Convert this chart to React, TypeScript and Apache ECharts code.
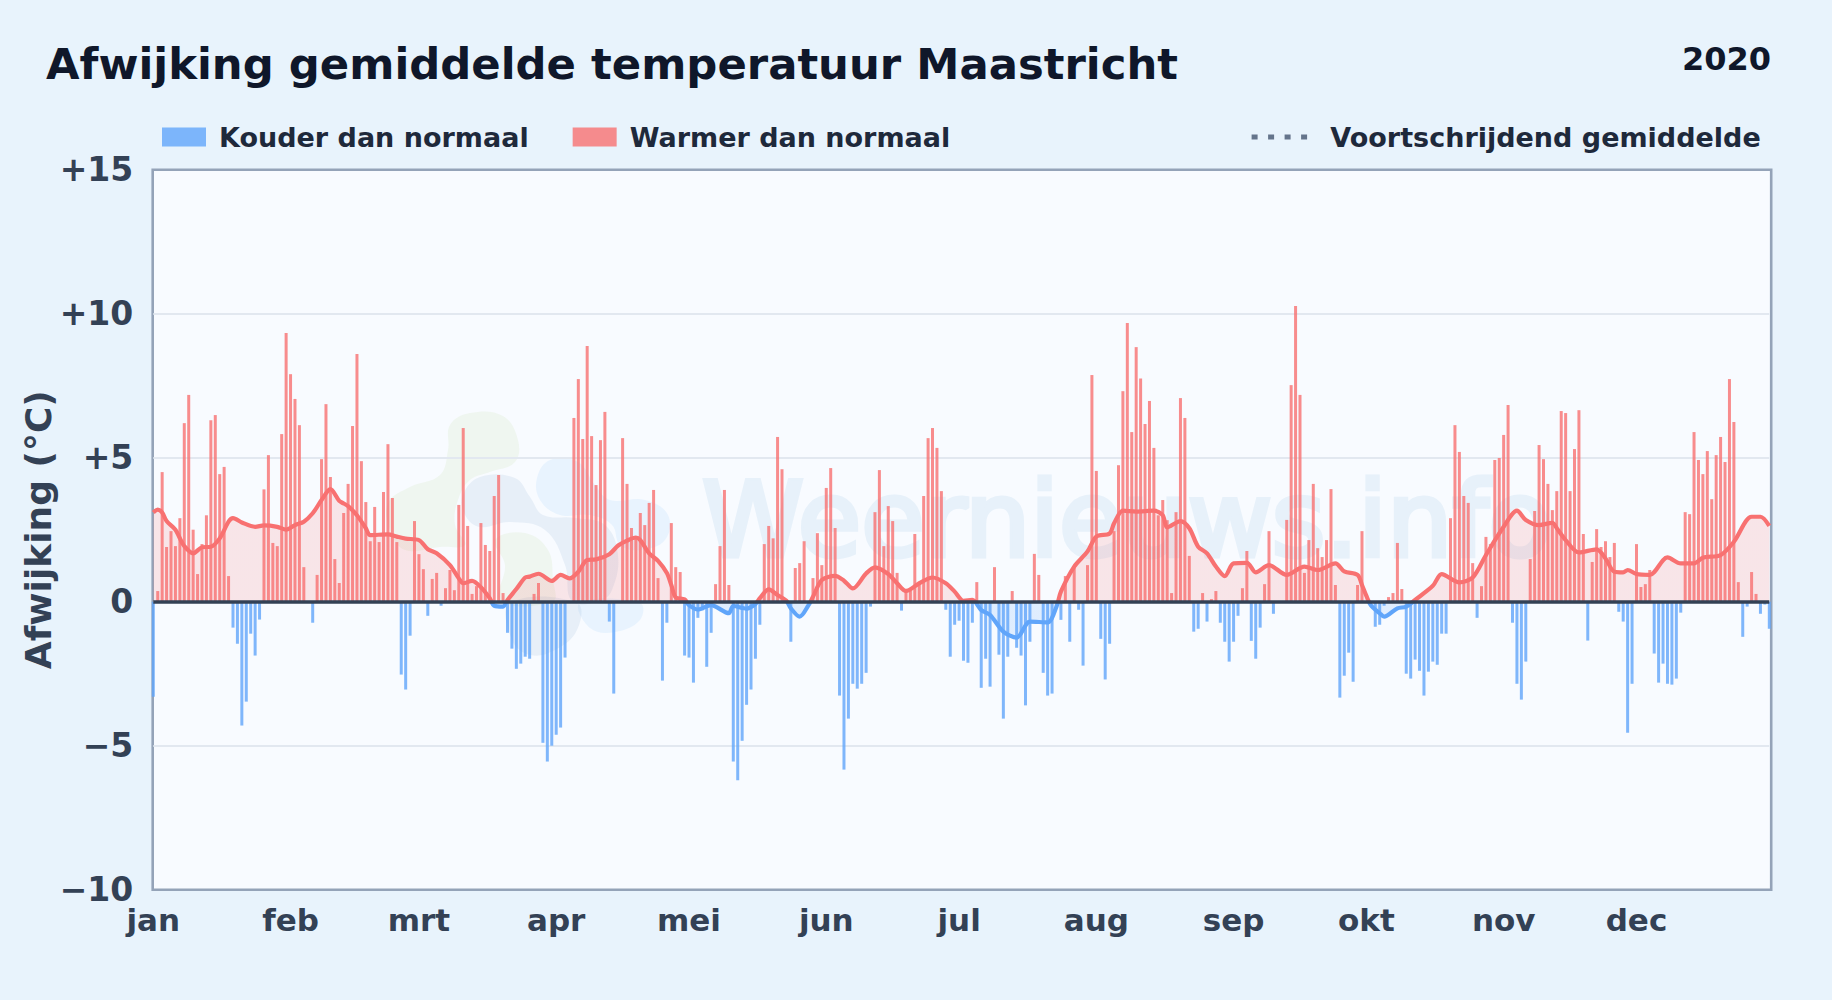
import React, { useEffect, useRef } from "react";
import * as echarts from "echarts";

const FONT = "DejaVu Sans";
const TITLE = "Afwijking gemiddelde temperatuur Maastricht";
const YEAR = "2020";
const WATERMARK = "Weernieuws.info";
const COLD_NAME = "Kouder dan normaal";
const WARM_NAME = "Warmer dan normaal";
const AVG_NAME = "Voortschrijdend gemiddelde";

const monthLabels = ["jan", "feb", "mrt", "apr", "mei", "jun", "jul", "aug", "sep", "okt", "nov", "dec"];
const monthStarts = [0, 31, 60, 91, 121, 152, 182, 213, 244, 274, 305, 335];

const deviation = [
  -3.3, 0.37, 4.5, 1.9, 2.45, 1.93, 2.9, 6.2, 7.18, 2.5,
  0.96, 2.0, 3.0, 6.3, 6.48, 4.43, 4.68, 0.89, -0.9, -1.46,
  -4.3, -3.47, -1.11, -1.87, -0.62, 3.9, 5.09, 2.04, 1.93, 5.82,
  9.33, 7.9, 7.04, 6.13, 1.2, 0, -0.73, 0.93, 4.95, 6.86,
  4.33, 1.48, 0.65, 3.08, 4.09, 6.1, 8.6, 4.88, 3.46, 2.1,
  3.29, 2.07, 3.81, 5.47, 3.6, 2.07, -2.53, -3.05, -1.18, 2.8,
  1.65, 1.13, -0.49, 0.79, 1.0, -0.14, 0.47, 1.1, 0.4, 3.36,
  6.03, 2.63, 0.27, 0.54, 2.73, 1.97, 1.76, 3.67, 4.4, 0.3,
  -1.08, -1.63, -2.33, -2.15, -1.91, -1.98, 0.27, 0.65, -4.9, -5.55,
  -5.0, -4.62, -4.37, -1.94, 0, 6.38, 7.73, 5.65, 8.88, 5.75,
  4.05, 5.61, 6.59, -0.69, -3.19, 0, 5.68, 4.09, 2.56, 2.26,
  3.08, 2.66, 3.43, 3.88, 0.82, -2.74, -0.73, 2.73, 1.2, 1.03,
  -1.87, -1.94, -2.81, -0.56, -0.3, -2.26, -1.08, 0.61, 1.93, 3.88,
  0.58, -5.55, -6.2, -4.83, -3.58, -3.05, -1.98, -0.8, 2.0, 2.63,
  2.2, 5.72, 4.6, 0, -1.39, 1.17, 1.34, 2.1, 0, 0.82,
  2.38, 1.27, 3.95, 4.64, 2.56, -3.26, -5.83, -4.06, -2.85, -3.02,
  -2.85, -2.47, -0.17, 3.11, 4.57, 1.93, 3.32, 2.8, 1.0, -0.31,
  0.45, 0.4, 2.35, 0.7, 3.67, 5.68, 6.03, 5.34, 3.84, -0.28,
  -1.91, -0.8, -0.66, -2.05, -2.12, -0.73, 0.68, -2.99, -1.98, -2.95,
  1.2, -1.84, -4.06, -1.91, 0.37, -1.6, -1.87, -3.6, -1.39, 1.66,
  0.93, -2.47, -3.26, -3.19, 0, -0.63, 0.89, -1.39, 1.2, -0.28,
  -2.22, 1.27, 7.87, 4.54, -1.29, -2.7, -1.46, 2.45, 4.74, 7.31,
  9.68, 5.89, 8.84, 7.75, 6.17, 6.97, 5.34, 3.0, 3.53, 2.83,
  0.3, 3.11, 7.07, 6.38, 1.59, -1.04, -0.94, 0.3, -0.69, 0.09,
  0.37, -0.73, -1.39, -2.08, -1.39, -0.49, 0.47, 1.76, -1.36, -1.98,
  -0.9, 0.61, 2.45, -0.42, 0, 0, 2.84, 7.52, 10.27, 7.18,
  1.0, 2.14, 4.09, 1.86, 1.55, 2.14, 3.91, 0.58, -3.33, -2.57,
  -1.77, -2.78, 0.58, 2.45, 0, 0, -0.87, -0.8, -0.14, 0.16,
  0.3, 2.04, 0.44, -2.5, -2.67, -2.01, -2.4, -3.26, -2.43, -2.08,
  -2.19, -1.11, -1.11, 2.9, 6.13, 5.2, 3.67, 3.43, 1.34, -0.56,
  0.54, 2.25, 2.0, 4.92, 4.99, 5.79, 6.83, -0.73, -2.85, -3.4,
  -2.08, 1.48, 3.15, 5.44, 4.95, 4.09, 3.18, 3.84, 6.62, 6.55,
  3.84, 5.3, 6.65, 2.35, -1.35, 1.38, 2.52, 1.9, 2.1, 1.55,
  2.04, -0.35, -0.69, -4.55, -2.85, 2.0, 0.51, 0.61, 1.1, -1.8,
  -2.81, -2.15, -2.85, -2.88, -2.67, -0.38, 3.11, 3.04, 5.89, 4.92,
  4.43, 5.23, 3.56, 5.09, 5.72, 4.85, 7.73, 6.24, 0.68, -1.22,
  -0.17, 1.03, 0.27, -0.42, -0.1, -0.94,
];

const avgDays = [
  0, 1, 2, 3, 5, 6, 7, 9, 11, 13, 15, 17, 18, 20, 23, 25, 28, 30, 32, 34, 36, 38, 40, 42, 43, 44, 46, 48, 49, 53, 55, 57,
  60, 62, 64, 67, 69, 70, 72, 74, 76, 77, 79, 80, 82, 84, 85, 87, 90, 92, 94, 96, 98, 100, 103, 105, 107, 109, 110, 112,
  114, 116, 117, 118, 120, 121, 123, 126, 127, 130, 131, 134, 136, 137, 139, 141, 143, 144, 146, 148, 149, 151, 154, 156,
  158, 161, 163, 166, 168, 170, 173, 176, 179, 181, 183, 185, 187, 189, 192, 195, 198, 202, 204, 205, 208, 211, 213, 216,
  217, 219, 222, 226, 228, 229, 232, 234, 236, 238, 240, 242, 244, 247, 249, 252, 256, 260, 263, 267, 269, 272, 273, 274,
  275, 277, 278, 281, 283, 285, 289, 291, 295, 298, 301, 305, 308, 310, 313, 316, 317, 319, 322, 326, 328, 330, 332, 333,
  335, 338, 342, 345, 348, 350, 354, 357, 361, 363, 365,
];

const avgValues = [
  3.1, 3.2, 3.1, 2.8, 2.5, 2.2, 1.93, 1.68, 1.89, 1.91, 2.2, 2.78, 2.9, 2.75, 2.6, 2.65, 2.6, 2.5, 2.66, 2.78, 3.07, 3.53, 3.91, 3.5, 3.41, 3.32, 3.0, 2.55, 2.31, 2.34, 2.26, 2.19,
  2.14, 1.82, 1.68, 1.27, 0.81, 0.64, 0.72, 0.5, 0.12, -0.14, -0.17, 0.06, 0.44, 0.84, 0.87, 0.97, 0.72, 0.93, 0.81, 1.04, 1.45, 1.47, 1.65, 1.95, 2.12, 2.23, 2.14, 1.68,
  1.42, 1.0, 0.58, 0.15, 0.08, -0.12, -0.27, -0.12, -0.17, -0.4, -0.15, -0.24, -0.08, 0.12, 0.43, 0.23, 0.03, -0.23, -0.52, -0.12, 0.17, 0.75, 0.9, 0.73,
  0.46, 0.98, 1.19, 0.96, 0.64, 0.37, 0.64, 0.84, 0.64, 0.35, 0.03, 0.06, -0.29, -0.46, -1.04, -1.25, -0.69, -0.72, -0.17, 0.35, 1.22, 1.74, 2.26, 2.37,
  2.72, 3.16, 3.13, 3.16, 3.0, 2.58, 2.8, 2.55, 1.91, 1.68, 1.22, 0.89, 1.33, 1.35, 1.02, 1.27, 0.93, 1.22, 1.1, 1.33, 1.05, 0.93, 0.58, 0.2,
  -0.12, -0.4, -0.52, -0.23, -0.17, 0.06, 0.55, 0.96, 0.67, 0.84, 1.62, 2.6, 3.16, 2.84, 2.66, 2.74, 2.55, 2.14, 1.71, 1.82, 1.5, 1.04, 1.02, 1.1,
  0.96, 0.93, 1.54, 1.33, 1.33, 1.53, 1.62, 2.08, 2.95, 2.95, 2.63,
];

const coldValues = deviation.map((v) => (v < 0 ? v : null));
const warmValues = deviation.map((v) => (v > 0 ? v : null));
const dayIndex = deviation.map((_, i) => String(i));
const avgPoints = avgDays.map((d, i) => [d, avgValues[i]]);

const yTicks: Record<string, string> = { "15": "+15", "10": "+10", "5": "+5", "0": "0", "-5": "\u22125", "-10": "\u221210" };

const GREEN = "rgba(176,214,120,0.11)";
const SLATE = "rgba(70,120,180,0.09)";
const SKY = "rgba(96,180,250,0.10)";

const logoBlobs: { fill: string; pts: number[][] }[] = [
  { fill: GREEN, pts: [[450, 425], [470, 413], [503, 416], [518, 440], [515, 462], [490, 472], [470, 480], [458, 500], [455, 525], [465, 545], [440, 547], [405, 550], [390, 530], [388, 503], [410, 487], [440, 475], [448, 450]] },
  { fill: GREEN, pts: [[495, 540], [525, 533], [548, 550], [553, 580], [553, 601], [500, 601], [505, 565]] },
  { fill: SLATE, pts: [[463, 495], [480, 477], [515, 478], [530, 497], [543, 515], [575, 518], [605, 525], [618, 555], [612, 590], [600, 601], [572, 601], [565, 565], [545, 530], [510, 522], [480, 527], [465, 515]] },
  { fill: SLATE, pts: [[510, 603], [577, 603], [577, 630], [555, 650], [530, 655], [512, 640]] },
  { fill: SKY, pts: [[537, 478], [550, 460], [578, 462], [595, 485], [610, 500], [645, 500], [668, 515], [665, 540], [640, 550], [620, 545], [612, 525], [590, 515], [560, 515], [540, 500]] },
  { fill: SKY, pts: [[580, 603], [640, 603], [640, 620], [615, 632], [590, 628]] },
];

const dotsIcon = "path://M0 0h6v5H0zM16.5 0h6v5h-6zM33 0h6v5h-6zM49.5 0h6v5h-6z";

const RED = "#f87171";
const BLUE = "#60a5fa";
const GRID_TOP = 169.7;
const GRID_HEIGHT = 720;
const ZERO_STOP = 15 / 25;
const signGradient = {
  type: "linear", x: 0, y: GRID_TOP, x2: 0, y2: GRID_TOP + GRID_HEIGHT, global: true,
  colorStops: [
    { offset: 0, color: RED },
    { offset: ZERO_STOP, color: RED },
    { offset: ZERO_STOP, color: BLUE },
    { offset: 1, color: BLUE },
  ],
};

export default function App() {
  const ref = useRef<HTMLDivElement>(null);
  useEffect(() => {
    document.body.style.margin = "0";
    document.body.style.background = "#e8f3fc";
    const chart = echarts.init(ref.current!, undefined, { renderer: "svg" });
    chart.setOption({
      animation: false,
      backgroundColor: "#e8f3fc",
      textStyle: { fontFamily: FONT },
      title: [
        { text: TITLE, left: 46, top: 42, padding: 0, textStyle: { fontFamily: FONT, fontWeight: "bold", fontSize: 43.35, color: "#0f172a" } },
        { text: YEAR, right: 61, top: 43, padding: 0, textStyle: { fontFamily: FONT, fontWeight: "bold", fontSize: 32, color: "#0f172a" } },
      ],
      legend: [
        {
          left: 162, top: 123.5, padding: 0, itemWidth: 44, itemHeight: 19, itemGap: 44, selectedMode: false,
          data: [
            { name: COLD_NAME, icon: "rect" },
            { name: WARM_NAME, icon: "rect" },
          ],
          textStyle: { fontFamily: FONT, fontWeight: "bold", fontSize: 27, color: "#1e293b", padding: [0, 0, 0, 8] },
        },
        {
          left: 1251.6, top: 123.5, padding: 0, itemWidth: 56, itemHeight: 5, selectedMode: false,
          data: [{ name: AVG_NAME, icon: dotsIcon, itemStyle: { color: "#64748b", opacity: 1 } }],
          textStyle: { fontFamily: FONT, fontWeight: "bold", fontSize: 27, color: "#1e293b", padding: [0, 0, 0, 18] },
        },
      ],
      grid: { left: 153.3, top: GRID_TOP, width: 1616, height: GRID_HEIGHT, show: false },
      xAxis: {
        type: "category", data: dayIndex, boundaryGap: false,
        axisLine: { show: false }, axisTick: { show: false }, splitLine: { show: false },
        axisLabel: {
          interval: (i: number) => monthStarts.includes(i),
          formatter: (v: string) => {
            const k = monthStarts.indexOf(Number(v));
            return k >= 0 ? monthLabels[k] : "";
          },
          margin: 15, fontFamily: FONT, fontWeight: "bold", fontSize: 31, color: "#334155",
        },
      },
      yAxis: {
        type: "value", min: -10, max: 15, interval: 5,
        name: "Afwijking (\u00b0C)", nameLocation: "middle", nameGap: 97, nameRotate: 90, nameMoveOverlap: false,
        nameTextStyle: { fontFamily: FONT, fontWeight: "bold", fontSize: 36, color: "#334155" },
        axisLine: { show: false }, axisTick: { show: false },
        axisLabel: {
          margin: 20, fontFamily: FONT, fontWeight: "bold", fontSize: 33, color: "#334155",
          formatter: (v: number) => yTicks[String(v)],
        },
        splitLine: { showMinLine: false, showMaxLine: false, lineStyle: { color: "#e2e8f0", width: 2 } },
      },
      graphic: [
        {
          type: "rect", silent: true, z: -1,
          shape: { x: 152.7, y: GRID_TOP, width: 1618.5, height: GRID_HEIGHT },
          style: { fill: "#f8fbff", stroke: "#94a3b8", lineWidth: 2.6 },
        },
        ...logoBlobs.map((b) => ({
          type: "polygon", silent: true, z: -0.4,
          shape: { points: b.pts, smooth: 0.4 },
          style: { fill: b.fill },
        })),
        {
          type: "text", silent: true, z: -0.5, x: 702, y: 468,
          style: {
            text: WATERMARK, fontFamily: FONT, fontSize: 103, verticalAlign: "top",
            fill: "#e7f1fa", stroke: "#e7f1fa", lineWidth: 5,
          },
        },
      ],
      series: [
        {
          name: COLD_NAME, type: "bar", data: coldValues, barWidth: 3, barGap: "-100%", z: 3, clip: false,
          itemStyle: { color: BLUE, opacity: 0.8 },
        },
        {
          name: WARM_NAME, type: "bar", data: warmValues, barWidth: 3, barGap: "-100%", z: 3, clip: false,
          itemStyle: { color: RED, opacity: 0.8 },
        },
        {
          name: AVG_NAME, type: "line", data: avgPoints, smooth: 0.3, showSymbol: false, symbol: "none", z: 4,
          itemStyle: { color: RED },
          lineStyle: { width: 4.2, color: signGradient },
          areaStyle: { color: signGradient, opacity: 0.16 },
          markLine: {
            silent: true, symbol: "none", animation: false, z: 6,
            label: { show: false },
            lineStyle: { color: "#334155", width: 3.5, type: "solid" },
            data: [{ yAxis: 0 }],
          },
        },
      ],
    });
    return () => chart.dispose();
  }, []);
  return <div ref={ref} style={{ position: "fixed", left: 0, top: 0, width: 1832, height: 1000 }} />;
}
